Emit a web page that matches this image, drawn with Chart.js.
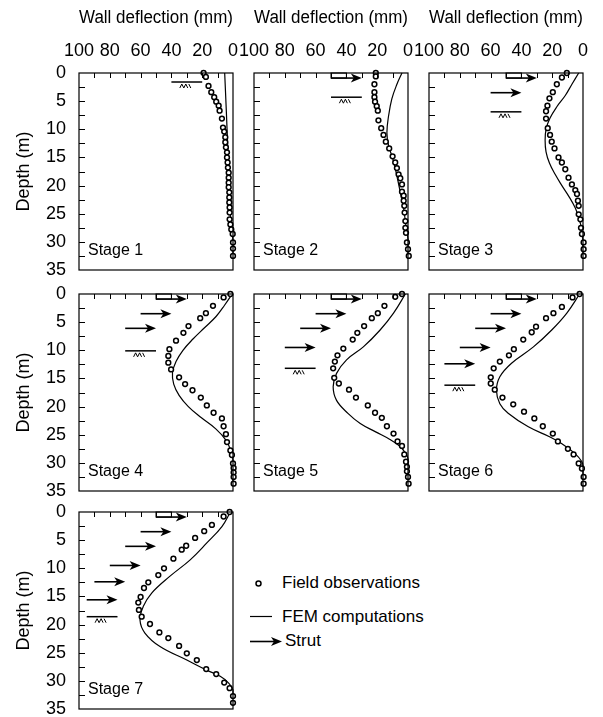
<!DOCTYPE html>
<html><head><meta charset="utf-8">
<script src="https://cdn.jsdelivr.net/npm/chart.js@4.4.0/dist/chart.umd.min.js"></script>
<style>
html,body{margin:0;padding:0;background:#fff;}
#wrap{position:relative;width:603px;height:717px;overflow:hidden;background:#fff;font-family:"Liberation Sans",Arial,sans-serif;}
#wrap canvas{position:absolute;}
.lg{position:absolute;font-size:17px;line-height:20px;color:#000;white-space:nowrap;}
</style></head><body><div id="wrap">
<svg width="603" height="717" style="position:absolute;left:0;top:0;pointer-events:none">
  <circle cx="258.5" cy="583.5" r="2.5" fill="#fff" stroke="#000" stroke-width="1.5"/>
  <line x1="250" y1="616.5" x2="272" y2="616.5" stroke="#000" stroke-width="1.2"/>
  <line x1="250" y1="641.5" x2="274" y2="641.5" stroke="#000" stroke-width="1.6"/>
  <polygon points="282,641.5 271,637 274,641.5 271,646" fill="#000"/>
</svg>
<div class="lg" style="left:282px;top:573px">Field observations</div>
<div class="lg" style="left:282px;top:607px">FEM computations</div>
<div class="lg" style="left:285px;top:631px">Strut</div>
</div>
<script>
// ---------------- data ----------------
const stageNames = ['Stage 1','Stage 2','Stage 3','Stage 4','Stage 5','Stage 6','Stage 7'];
const xTickLabels = [100, 80, 60, 40, 20, 0];
const yTickLabels = [0, 5, 10, 15, 20, 25, 30, 35];

const obsDepth1 = [0,0.7,2.3,3.4,4.3,5.1,5.8,6.7,8.1,9.7,10.4,11.4,12.3,13.2,14.1,15.0,15.9,16.8,17.7,18.6,19.5,20.3,21.2,22.1,23.0,23.9,24.8,26.0,26.9,27.8,28.6,30.1,31.2,32.5];
const obsDefl1  = [19.1,17.6,15.9,14.1,12.2,10.9,9.3,8.7,7.2,6.5,5.7,5.0,5.0,4.6,3.9,3.9,3.5,3.3,2.8,2.8,2.8,2.8,2.4,2.4,2.4,2.2,2.2,2.2,1.7,1.1,0.2,0,0,0];
const femDepth1 = [0,7,14,21,26,28.5,30,33];
const femDefl1  = [5.4,4.3,3.3,2.4,1.5,0.5,0,0];

const obsDepth2 = [0,0.6,2.0,3.4,4.3,5.1,5.9,6.7,8.4,9.8,11.0,12.2,13.4,14.8,15.9,16.9,18.0,18.7,19.8,21.1,21.8,22.7,23.6,24.8,26.3,27.5,28.4,30.1,31.3,32.5];
const obsDefl2  = [20.9,20.9,21.8,21.8,21.8,21.4,20.3,19.6,19.2,17.4,15.9,14.4,12.2,10.0,8.3,7.2,6.1,5.0,3.9,3.9,2.8,2.8,2.4,2.2,1.7,1.7,1.3,0.7,0,-0.5];
const femDepth2 = [0,2,4.6,7.6,10.6,12.9,15.3,18.3,21.2,24.2,27.2,29.5,33];
const femDefl2  = [3.9,7.2,10.5,12.6,13.7,12.6,9.8,7.2,5.0,2.8,1.3,0,0];

const obsDepth3 = [0,0.8,2.0,3.4,4.5,5.8,6.8,8.1,9.8,11.0,12.2,13.4,15.0,15.9,17.1,18.6,19.8,20.8,21.5,22.7,23.6,25.1,26.0,27.5,28.6,30.1,31.3,32.5];
const obsDefl3  = [10.5,13.7,17.0,19.6,21.8,23.1,24.0,24.0,22.9,21.4,20.3,18.5,15.9,13.7,11.5,9.4,7.2,5.0,3.9,3.3,2.8,2.8,1.7,1.3,0.7,-0.4,-0.4,-0.4];
const femDepth3 = [0,2,4,6,8,10,12,14,16,18,20,22,24,26,28,30,33];
const femDefl3  = [2.8,7.2,11.5,17.0,21.4,24.0,24.6,24.0,21.8,18.1,13.7,9.0,5.0,2.4,0.7,0,0];

const obsDepth4 = [0,0.6,2.1,3.4,4.3,5.7,6.9,8.3,9.8,11.0,12.2,13.4,14.8,16.0,17.1,18.4,19.8,21.1,22.1,23.5,24.9,26.3,27.8,28.6,30.1,30.9,31.7,32.5,33.7];
const obsDefl4  = [1.7,6.1,13.0,17.6,21.3,28.9,32.2,37.0,41.3,42.0,42.0,40.2,35.0,31.1,26.3,20.9,17.0,12.6,7.2,6.1,4.6,3.9,1.7,0.7,0,-0.4,-0.4,-0.4,-0.4];
const femDepth4 = [0,2,4,6,8,10,12,14,16,18,20,22,24,26,28,29.5,34];
const femDefl4  = [0.5,5.5,11,18.5,26,32.5,37,39.3,38.5,35,29,20.5,11,4.5,1.2,0,0];

const obsDepth5 = [0,0.5,2.1,3.4,4.3,5.7,6.9,8.1,9.7,10.9,12.0,13.2,14.9,15.9,17.0,18.4,19.8,21.1,22.0,23.5,24.8,26.2,27.0,28.5,29.8,30.7,31.5,32.5,33.7];
const obsDefl5  = [3.9,8.3,15.3,19.6,23.5,28.5,32.9,35.9,42.0,45.8,47.5,48.6,47.9,44.9,38.3,33.8,26.1,21.4,17.0,13.7,9.4,6.8,3.9,2.4,1.3,0.7,0.7,0,-0.4];
const femDepth5 = [0,3.4,6.4,9.4,11.7,14.1,16.5,18.9,21.2,23.0,24.5,25.8,27.0,28.2,29.3,33];
const femDefl5  = [1.7,9.4,18.1,29.0,39.9,46.4,48.6,46.4,39.0,31.0,21.0,12.0,5.5,1.8,0,0];

const obsDepth6 = [0,0.6,2.3,3.4,4.3,5.8,6.8,8.1,9.8,10.9,12.0,13.2,14.8,15.9,17.0,18.4,19.6,20.9,22.1,23.5,24.8,26.2,27.5,28.5,30.1,31.0,32.5,33.7];
const obsDefl6  = [2.2,6.8,13.7,19.2,24.0,30.5,33.3,38.8,44.9,48.1,54.0,58.0,59.9,59.9,57.3,52.3,45.3,38.3,31.6,26.1,19.6,16.3,9.8,6.1,2.8,0.7,-0.4,-0.4];
const femDepth6 = [0,3.4,6.4,9.4,12.3,14.7,17.1,19.5,21.2,23.6,25.4,26.6,28.4,29.8,30.7,33];
const femDefl6  = [2.2,10.5,20.3,32.2,46.4,54.0,56.2,54.0,48.6,35.5,21.4,13.7,5.0,0.7,0,0];

const obsDepth7 = [0,0.8,2.3,3.4,4.6,6.0,6.7,8.3,10.0,11.2,12.5,13.5,15.1,16.1,17.4,18.6,19.9,21.4,22.4,23.8,25.1,26.3,27.9,28.8,30.3,31.3,32.7,33.9];
const obsDefl7  = [2.2,6.1,13.7,18.7,24.6,30.4,33.3,38.7,44.8,48.5,55.0,57.8,60.0,61.5,61.1,59.3,53.9,47.8,42.0,35.0,30.0,23.5,17.4,10.9,5.7,2.2,0,0];
const femDepth7 = [0,2.6,5.5,8.5,11.4,14.4,16.8,19.2,21.5,23.9,26.3,28.1,29.2,30.4,31.6,33];
const femDefl7  = [1.7,7.2,17,27.8,40.9,52.8,58.3,60.4,57.2,47.4,30,17,8.3,2.8,0,0];

// struts (depth m, arrow tail mm, arrow tip mm) and excavation levels per stage
const strutDepth = [0.9, 3.5, 6.1, 9.5, 12.4, 15.6];
const strutFrom  = [50, 60, 70, 80, 90, 95];
const strutTo    = [30, 40, 50, 60, 70, 75];
const topStrutBox = [50, 40];
const excDepth = [1.6, 4.3, 6.9, 10.1, 13.2, 16.2, 18.6];
const excFrom  = [40, 50, 60, 70, 80, 90, 95];
const excTo    = [20, 30, 40, 50, 60, 70, 75];

const obsDepths = [obsDepth1,obsDepth2,obsDepth3,obsDepth4,obsDepth5,obsDepth6,obsDepth7];
const obsDefls  = [obsDefl1,obsDefl2,obsDefl3,obsDefl4,obsDefl5,obsDefl6,obsDefl7];
const femDepths = [femDepth1,femDepth2,femDepth3,femDepth4,femDepth5,femDepth6,femDepth7];
const femDefls  = [femDefl1,femDefl2,femDefl3,femDefl4,femDefl5,femDefl6,femDefl7];

// ---------------- layout ----------------
const colLeft = [79, 254, 429];
const rowTop = [73, 294, 512];
const PW = 154, PH = 197;
const FONT = '"Liberation Sans", Arial, sans-serif';

function drawArrow(ctx, x0, x1, yy) {
  ctx.beginPath();
  ctx.lineWidth = 1.6;
  ctx.moveTo(x0, yy); ctx.lineTo(x1 - 7, yy);
  ctx.stroke();
  ctx.beginPath();
  ctx.moveTo(x1, yy);
  ctx.lineTo(x1 - 11, yy - 4.5);
  ctx.lineTo(x1 - 8, yy);
  ctx.lineTo(x1 - 11, yy + 4.5);
  ctx.closePath();
  ctx.fill();
}

const decor = {
  id: 'decor',
  afterDraw(chart, args, opts) {
    const ctx = chart.ctx, a = chart.chartArea, x = chart.scales.x, y = chart.scales.y;
    const st = opts.stage;
    ctx.save();
    ctx.strokeStyle = '#000'; ctx.fillStyle = '#000';
    ctx.lineWidth = 1.2;
    ctx.strokeRect(a.left, a.top, a.right - a.left, a.bottom - a.top);
    ctx.lineWidth = 1;
    ctx.beginPath();
    for (let v = 10; v < 100; v += 10) {
      const px = Math.round(x.getPixelForValue(v)) + 0.5;
      ctx.moveTo(px, a.top); ctx.lineTo(px, a.top + 5);
    }
    for (let v = 2.5; v < 35; v += 2.5) {
      const py = Math.round(y.getPixelForValue(v)) + 0.5;
      ctx.moveTo(a.left, py); ctx.lineTo(a.left + 6, py);
    }
    ctx.stroke();
    // struts
    for (let k = 0; k < st; k++) {
      drawArrow(ctx, x.getPixelForValue(strutFrom[k]), x.getPixelForValue(strutTo[k]), y.getPixelForValue(strutDepth[k]));
    }
    if (st > 0) {
      ctx.lineWidth = 1;
      const rx0 = x.getPixelForValue(topStrutBox[0]), rx1 = x.getPixelForValue(topStrutBox[1]);
      const ry0 = y.getPixelForValue(0), ry1 = y.getPixelForValue(strutDepth[0]);
      ctx.strokeRect(rx0, ry0, rx1 - rx0, ry1 - ry0);
    }
    // excavation level
    const ey = y.getPixelForValue(excDepth[st]);
    ctx.lineWidth = 1.5;
    ctx.beginPath();
    ctx.moveTo(x.getPixelForValue(excFrom[st]), ey);
    ctx.lineTo(x.getPixelForValue(excTo[st]), ey);
    ctx.stroke();
    const cx = x.getPixelForValue((excFrom[st] + excTo[st]) / 2) - 2;
    ctx.lineWidth = 1;
    ctx.beginPath();
    ctx.moveTo(cx - 5, ey + 6); ctx.lineTo(cx - 3, ey + 2); ctx.lineTo(cx - 1, ey + 6);
    ctx.lineTo(cx + 1, ey + 2); ctx.lineTo(cx + 3, ey + 6);
    ctx.moveTo(cx + 4, ey + 2); ctx.lineTo(cx + 6, ey + 6);
    ctx.stroke();
    // stage label
    ctx.font = '16px ' + FONT;
    ctx.textAlign = 'left'; ctx.textBaseline = 'middle';
    ctx.fillText(stageNames[st], a.left + 9, a.bottom - 19);
    ctx.restore();
  }
};

const wrap = document.getElementById('wrap');
for (let i = 0; i < 7; i++) {
  const row = Math.floor(i / 3), col = i % 3;
  const axisW = col === 0 ? 79 : 0;
  const axisH = row === 0 ? 73 : 0;
  const padT = row === 0 ? 0 : 12, padB = 12, padL = col === 0 ? 0 : 22, padR = 22;
  const W = padL + axisW + PW + padR, H = padT + axisH + PH + padB;
  const cv = document.createElement('canvas');
  cv.width = W; cv.height = H;
  cv.style.width = W + 'px'; cv.style.height = H + 'px';
  cv.style.left = (colLeft[col] - axisW - padL) + 'px';
  cv.style.top = (rowTop[row] - axisH - padT) + 'px';
  wrap.appendChild(cv);
  const obs = obsDepths[i].map((d, j) => ({x: obsDefls[i][j], y: d}));
  const fem = femDepths[i].map((d, j) => ({x: femDefls[i][j], y: d}));
  new Chart(cv, {
    type: 'scatter',
    data: {datasets: [
      {label: 'Field observations', data: obs, showLine: false, pointStyle: 'circle', pointRadius: 2.4,
       pointBorderWidth: 1.5, borderColor: '#000', backgroundColor: '#fff', clip: false},
      {label: 'FEM computations', data: fem, showLine: true, pointRadius: 0, borderColor: '#000',
       borderWidth: 1.2, tension: 0.4, fill: false, clip: false}
    ]},
    options: {
      responsive: false, animation: false, devicePixelRatio: 1, events: [],
      layout: {padding: {left: padL, right: padR, top: padT, bottom: padB}},
      plugins: {legend: {display: false}, tooltip: {enabled: false}, decor: {stage: i}},
      scales: {
        x: {type: 'linear', position: 'top', min: 0, max: 100, reverse: true,
            grid: {display: false, drawTicks: false}, border: {display: false},
            ticks: {display: row === 0, stepSize: 20, padding: 11, color: '#000', font: {family: FONT, size: 18},
                    maxRotation: 0, minRotation: 0, autoSkip: false, includeBounds: true,
                    callback: (v) => xTickLabels.includes(v) ? String(v) : ''},
            title: {display: row === 0, text: 'Wall deflection (mm)', color: '#000', font: {family: FONT, size: 18},
                    padding: {top: 7, bottom: 0}},
            afterFit: (s) => { s.height = axisH; s.paddingLeft = 0; s.paddingRight = 0; }},
        y: {type: 'linear', position: 'left', min: 0, max: 35, reverse: true,
            grid: {display: false, drawTicks: false}, border: {display: false},
            ticks: {display: col === 0, stepSize: 5, padding: 13, color: '#000', font: {family: FONT, size: 18},
                    autoSkip: false,
                    callback: (v) => yTickLabels.includes(v) ? String(v) : ''},
            title: {display: col === 0, text: 'Depth (m)', color: '#000', font: {family: FONT, size: 18},
                    padding: {top: 13, bottom: 0}},
            afterFit: (s) => { s.width = axisW; s.paddingTop = 0; s.paddingBottom = 0; }}
      }
    },
    plugins: [decor]
  });
}
</script>
</body></html>
